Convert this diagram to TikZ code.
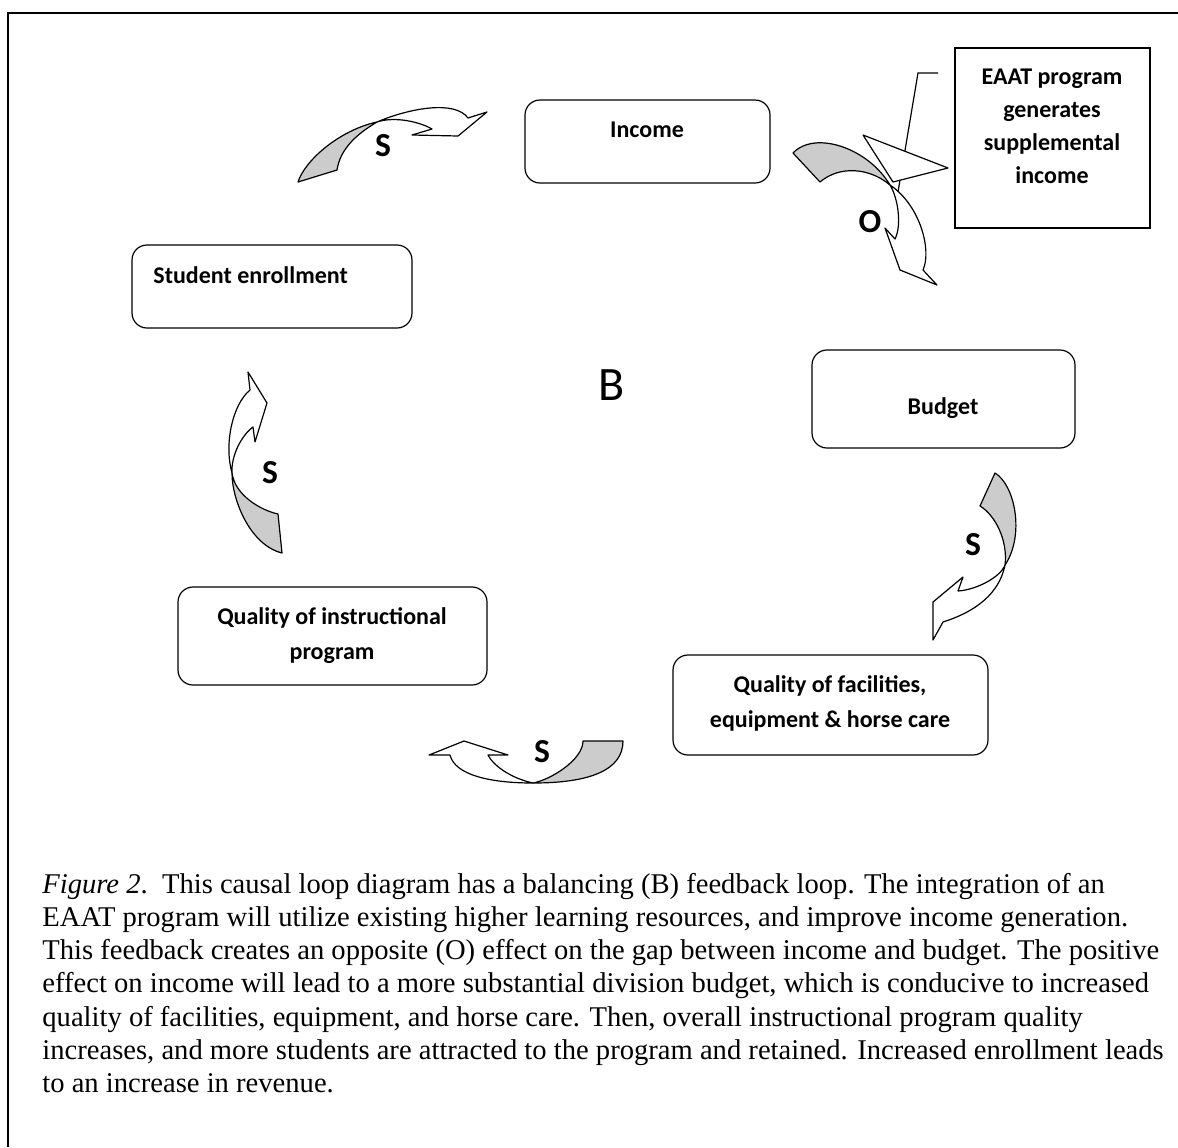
\documentclass[tikz,border=0pt]{standalone}
\usepackage{fontspec}
\setmainfont{Liberation Serif}
\newfontfamily\calibri{Carlito}
\begin{document}
\begin{tikzpicture}[x=0.5pt, y=-0.5pt,
        roundbox/.style={draw, rounded corners=7.5pt, line width=0.6pt, inner sep=0pt},
        sqbox/.style={draw, line width=0.6pt, inner sep=0pt},
        lbl/.style={font=\calibri\bfseries\fontsize{12}{17.5}\selectfont, inner sep=0pt, align=center},
        sign/.style={font=\calibri\bfseries\fontsize{16.8}{20}\selectfont, inner sep=0pt},
        tailband/.style={draw, fill=gray!40, line width=0.6pt, line join=round},
        headband/.style={draw, fill=white, line width=0.6pt, line join=round}
    ]
        \useasboundingbox (0,0) rectangle (1178,1147);
        % Khung
        \draw[line width=0.75pt] (8,1147) -- (8,13) -- (1178,13);

        % Các hộp
        \node[roundbox, minimum width=122.5pt, minimum height=41.5pt] (income) at (647.5,141.5) {};
        \node[lbl, anchor=base] (income text) at (647,137) {Income};
        \node[roundbox, minimum width=140pt, minimum height=41.5pt] (enroll) at (272,286.5) {};
        \node[lbl, anchor=base west] (enroll text) at (153,283) {Student enrollment};
        \node[roundbox, minimum width=131.5pt, minimum height=49pt] (budget) at (943.5,399) {};
        \node[lbl, anchor=base] (budget text) at (943,414) {Budget};
        \node[roundbox, minimum width=154.5pt, minimum height=49pt] (instr) at (332.5,636) {};
        \node[lbl] (instr text) at (332,636) {Quality of instructional\\program};
        \node[roundbox, minimum width=157.5pt, minimum height=50pt] (facil) at (830.5,705) {};
        \node[lbl] (facil text) at (830,703) {Quality of facilities,\\equipment \& horse care};
        \node[sqbox, minimum width=97.5pt, minimum height=90pt] (eaat) at (1052.5,138) {};
        \node[lbl, font=\calibri\bfseries\fontsize{12}{16.5}\selectfont] (eaat text) at (1052,126)
            {EAAT program\\generates\\supplemental\\income};

        % Mũi tên cong: Student enrollment -> Income
        \draw[tailband] (298,182) .. controls (305,160) and (340,130) .. (377,122)
            .. controls (355,135) and (340,150) .. (337,170) -- cycle;
        \draw[headband] (377,122) .. controls (410,108) and (455,100) .. (468,118)
            -- (487,112) -- (458,136) -- (412,135) -- (432,129)
            .. controls (420,122) and (395,116) .. (377,122) -- cycle;

        % Mũi tên cong: Income -> Budget (O)
        \draw[tailband] (793,153) .. controls (815,130) and (868,148) .. (890,185)
            .. controls (870,168) and (840,165) .. (820,182) -- cycle;
        \draw[headband] (890,185) .. controls (920,205) and (932,250) .. (923,270)
            -- (937,285) -- (900,270) -- (885,228) -- (895,239)
            .. controls (902,225) and (898,198) .. (890,185) -- cycle;

        % Chú thích EAAT
        \draw[line width=0.6pt] (938,73) -- (918,73) -- (898,192);
        \draw[headband] (863,135) -- (948,168) -- (893,182) -- cycle;

        % Mũi tên cong: Budget -> Quality of facilities
        \draw[tailband] (995,473) .. controls (1015,485) and (1025,535) .. (1005,565)
            .. controls (1008,540) and (995,515) .. (980,506) -- cycle;
        \draw[headband] (1005,565) .. controls (998,600) and (965,615) .. (943,622)
            -- (933,640) -- (933,602) -- (963,577) -- (958,591)
            .. controls (975,590) and (1000,578) .. (1005,565) -- cycle;

        % Mũi tên cong: Quality of facilities -> Quality of instructional program
        \draw[tailband] (623,741) .. controls (623,770) and (590,783) .. (533,783)
            .. controls (550,780) and (583,760) .. (583,741) -- cycle;
        \draw[headband] (533,783) .. controls (490,783) and (455,775) .. (450,755)
            -- (429,755) -- (464,741) -- (508,755) -- (488,755)
            .. controls (493,765) and (510,778) .. (533,783) -- cycle;

        % Mũi tên cong: Quality of instructional program -> Student enrollment
        \draw[tailband] (232,473) .. controls (232,500) and (250,545) .. (282,553)
            -- (278,514) .. controls (260,510) and (235,495) .. (232,473) -- cycle;
        \draw[headband] (232,473) .. controls (224,445) and (232,405) .. (250,390)
            -- (248,372) -- (267,403) -- (255,442) -- (253,427)
            .. controls (242,435) and (231,455) .. (232,473) -- cycle;

        % Nhãn
        \node[sign] (s1) at (383,146) {S};
        \node[sign] (o1) at (870,222) {O};
        \node[sign] (s2) at (973,545) {S};
        \node[sign] (s3) at (542,752) {S};
        \node[sign] (s4) at (270,473) {S};
        \node[font=\calibri\fontsize{24}{28}\selectfont, inner sep=0pt] (loop) at (612,385) {B};

        % Chú thích hình
        \node[anchor=north west, align=left, inner sep=0pt,
            font=\fontsize{14.3}{16.56}\selectfont] (caption) at (42,873)
            {\textit{Figure 2}.\ \ This causal loop diagram has a balancing (B) feedback loop. The integration of an\\
            EAAT program will utilize existing higher learning resources, and improve income generation.\\
            This feedback creates an opposite (O) effect on the gap between income and budget. The positive\\
            effect on income will lead to a more substantial division budget, which is conducive to increased\\
            quality of facilities, equipment, and horse care. Then, overall instructional program quality\\
            increases, and more students are attracted to the program and retained. Increased enrollment leads\\
            to an increase in revenue.};
    \end{tikzpicture}
\end{document}
